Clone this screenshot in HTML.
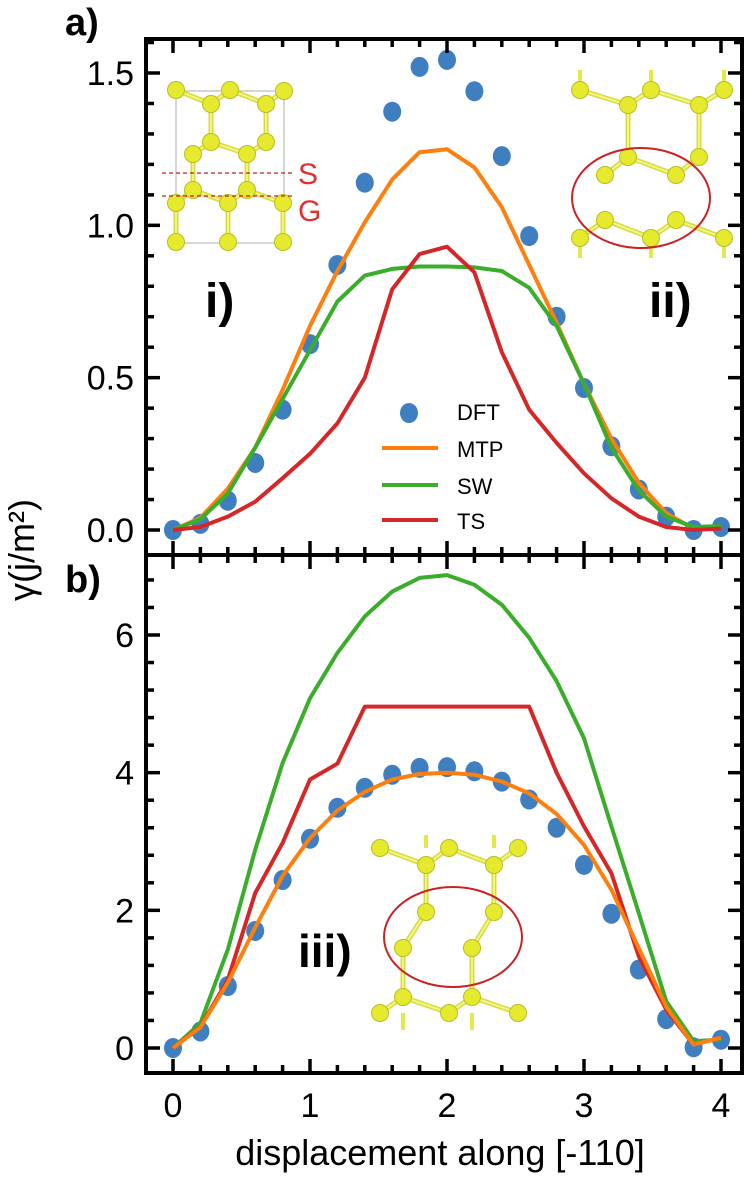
<!DOCTYPE html>
<html><head><meta charset="utf-8"><style>
html,body{margin:0;padding:0;background:#fff;}
svg{display:block;font-family:"Liberation Sans",Arial,sans-serif;}
</style></head><body>
<svg id="chart" width="750" height="1179" viewBox="0 0 750 1179" xmlns="http://www.w3.org/2000/svg">
<text x="65" y="35" font-size="38" font-weight="bold">a)</text>
<text x="65" y="592" font-size="38" font-weight="bold">b)</text>
<text transform="translate(34,550) rotate(-90)" text-anchor="middle" font-size="36">γ(j/m²)</text>
<text x="440" y="1165" text-anchor="middle" font-size="36">displacement along [-110]</text>
<g id="insets"></g>
<g id="plot"></g>
</svg>
<script>
const xs = [0,0.2,0.4,0.6,0.8,1.0,1.2,1.4,1.6,1.8,2.0,2.2,2.4,2.6,2.8,3.0,3.2,3.4,3.6,3.8,4.0];
const xTickLabels = ["0","1","2","3","4"];
const aTickLabels = ["0.0","0.5","1.0","1.5"];
const bTickLabels = ["0","2","4","6"];
const aDFT = [0,0.02,0.096,0.22,0.395,0.61,0.87,1.14,1.373,1.52,1.543,1.44,1.227,0.965,0.70,0.466,0.275,0.133,0.044,0.0,0.01];
const aMTP = [0,0.04,0.136,0.27,0.46,0.67,0.85,1.01,1.15,1.24,1.25,1.19,1.06,0.87,0.68,0.48,0.30,0.155,0.055,0.005,0.01];
const aSW  = [0,0.035,0.12,0.27,0.43,0.59,0.75,0.835,0.857,0.865,0.865,0.862,0.85,0.795,0.67,0.48,0.27,0.13,0.044,0.01,0.013];
const aTS  = [0,0.01,0.044,0.093,0.17,0.25,0.35,0.5,0.79,0.906,0.93,0.846,0.584,0.395,0.286,0.186,0.104,0.044,0.01,0.0,0.005];
const bDFT = [0,0.24,0.90,1.70,2.44,3.04,3.49,3.78,3.97,4.07,4.08,4.02,3.87,3.61,3.20,2.66,1.95,1.14,0.42,0.01,0.12];
const bMTP = [0,0.3,0.95,1.75,2.5,3.05,3.45,3.72,3.9,3.98,4.0,3.97,3.87,3.7,3.4,2.95,2.3,1.45,0.6,0.05,0.15];
const bSW  = [0,0.36,1.43,2.88,4.14,5.08,5.74,6.27,6.63,6.83,6.87,6.73,6.44,5.96,5.33,4.5,3.22,1.96,0.68,0.1,0.12];
const bTS  = [0,0.31,0.99,2.25,2.98,3.90,4.13,4.96,4.96,4.96,4.96,4.96,4.96,4.96,4.0,3.22,2.54,1.33,0.56,0.05,0.15];

const NS="http://www.w3.org/2000/svg";
const plot=document.getElementById('plot');
const ins=document.getElementById('insets');
function mk(tag,attrs,parent){const e=document.createElementNS(NS,tag);for(const k in attrs)e.setAttribute(k,attrs[k]);(parent||plot).appendChild(e);return e;}
const L=146,R=742,TA=39,MID=555,BOT=1073;
const X=v=>173+v*(721-173)/4;
const YA=v=>530-v*(530-73)/1.5;
const YB=v=>1048-v*(1048-635)/6;
const C={DFT:"#3f7fbf",MTP:"#ff7f0e",SW:"#3aae2a",TS:"#d62728"};

function molecule(balls,bonds,sticks,name){
  const g=mk('g',{},ins);
  
  
  sticks.forEach(s=>mk('line',{x1:s[0],y1:s[1],x2:s[2],y2:s[3],stroke:"#e4e84a","stroke-width":4},g));
  bonds.forEach(b=>{const p=balls[b[0]],q=balls[b[1]];mk('line',{x1:p[0],y1:p[1],x2:q[0],y2:q[1],stroke:"#d8dc3a","stroke-width":5},g);mk('line',{x1:p[0],y1:p[1],x2:q[0],y2:q[1],stroke:"#f2f58a","stroke-width":2},g);});
  balls.forEach(p=>mk('circle',{cx:p[0],cy:p[1],r:8.5,fill:"#e6ea2e",stroke:"#b9bd22","stroke-width":1},g));
  return g;
}
mk('rect',{x:176,y:91,width:108,height:152,fill:"none",stroke:"#999","stroke-width":0.8},ins);
const b1=[[176,90],[230,90],[284,91],[211,104],[266,104],[211,142],[266,142],[193,154],[247,154],[193,190],[247,190],[176,203],[228,203],[283,203],[176,242],[228,242],[283,242]];
molecule(b1,[[0,3],[1,3],[1,4],[2,4],[3,5],[4,6],[5,7],[5,8],[6,8],[7,9],[8,10],[9,11],[9,12],[10,12],[10,13],[11,14],[12,15],[13,16]],[],'inset-i-structure');
mk('line',{x1:162,y1:173,x2:292,y2:173,stroke:"#b22",'stroke-width':1.2,'stroke-dasharray':'4,3'},ins);
mk('line',{x1:162,y1:196,x2:292,y2:196,stroke:"#b22",'stroke-width':1.2,'stroke-dasharray':'4,3'},ins);
let t=mk('text',{x:298,y:184,'font-size':30,fill:"#e03030"},ins);t.textContent="S";


t=mk('text',{x:298,y:221,'font-size':30,fill:"#e03030"},ins);t.textContent="G";


t=mk('text',{x:205,y:317,'font-size':48,'font-weight':'bold'},ins);t.textContent="i)";


const b2=[[580,90],[651,90],[724,90],[628,105],[699,105],[628,157],[699,157],[605,175],[676,175],[605,220],[676,220],[580,238],[651,238],[724,238]];
molecule(b2,[[0,3],[1,3],[1,4],[2,4],[3,5],[4,6],[5,7],[5,8],[6,8],[9,11],[9,12],[10,12],[10,13]],[[580,70,580,90],[651,70,651,90],[724,70,724,90],[580,238,580,258],[651,238,651,258],[724,238,724,258]],'inset-ii-structure');
mk('ellipse',{cx:641,cy:198,rx:69,ry:50,fill:"none",stroke:"#cc2222","stroke-width":2},ins);
t=mk('text',{x:649,y:317,'font-size':48,'font-weight':'bold'},ins);t.textContent="ii)";


const b3=[[380,848],[449,848],[518,848],[426,865],[494,865],[426,912],[494,912],[403,948],[472,948],[403,997],[472,997],[380,1013],[449,1013],[518,1013]];
molecule(b3,[[0,3],[1,3],[1,4],[2,4],[3,5],[4,6],[5,7],[6,8],[7,9],[8,10],[9,11],[9,12],[10,12],[10,13]],[[426,835,426,848],[494,835,494,848],[403,1013,403,1030],[472,1013,472,1030]],'inset-iii-structure');
mk('ellipse',{cx:453,cy:937,rx:69,ry:50,fill:"none",stroke:"#cc2222","stroke-width":2},ins);
t=mk('text',{x:298,y:967,'font-size':46,'font-weight':'bold'},ins);t.textContent="iii)";



function line(vals,Y,col,name){
  const d=vals.map((v,i)=>(i?'L':'M')+X(xs[i]).toFixed(1)+','+Y(v).toFixed(1)).join(' ');
  const p=mk('path',{d:d,fill:'none',stroke:col,'stroke-width':4,'stroke-linejoin':'round'});
  
  
}
function dots(vals,Y,name){
  const g=mk('g',{});
  
  
  vals.forEach((v,i)=>mk('ellipse',{cx:X(xs[i]),cy:Y(v),rx:9,ry:10,fill:C.DFT},g));
}
dots(aDFT,YA,'dft-points-a');
line(aMTP,YA,C.MTP,'mtp-line-a');
line(aSW,YA,C.SW,'sw-line-a');
line(aTS,YA,C.TS,'ts-line-a');
dots(bDFT,YB,'dft-points-b');
line(bSW,YB,C.SW,'sw-line-b');
line(bTS,YB,C.TS,'ts-line-b');
line(bMTP,YB,C.MTP,'mtp-line-b');

const lg=mk('g',{});


mk('ellipse',{cx:409,cy:413,rx:9,ry:10,fill:C.DFT},lg);
[["DFT",420],["MTP",457],["SW",494],["TS",529]].forEach((e,i)=>{
  if(i>0) mk('line',{x1:382,y1:e[1]-9,x2:438,y2:e[1]-9,stroke:C[e[0]],'stroke-width':4},lg);
  const tt=mk('text',{x:457,y:e[1],'font-size':22},lg);tt.textContent=e[0];
});

const ax=mk('g',{});


mk('rect',{x:L,y:TA,width:R-L,height:BOT-TA,fill:'none',stroke:'#000','stroke-width':4},ax);
mk('line',{x1:L,y1:MID,x2:R,y2:MID,stroke:'#000','stroke-width':4},ax);
for(let k=0;k<=20;k++){
  const v=k*0.2, x=X(v), len=(k%5===0)?14:8;
  [[TA,1],[MID,-1],[MID,1],[BOT,-1]].forEach(s=>mk('line',{x1:x,y1:s[0],x2:x,y2:s[0]+s[1]*len,stroke:'#000','stroke-width':3.5},ax));
}
xTickLabels.forEach((lab,i)=>{const tt=mk('text',{x:X(i),y:1117,'font-size':34,'text-anchor':'middle'},ax);tt.textContent=lab;});
for(let k=0;k<=16;k++){
  const v=k*0.1; const y=YA(v); if(y<TA+2||y>MID-2) continue;
  const len=(k%5===0)?14:8;
  mk('line',{x1:L,y1:y,x2:L+len,y2:y,stroke:'#000','stroke-width':3.5},ax);
  mk('line',{x1:R,y1:y,x2:R-len,y2:y,stroke:'#000','stroke-width':3.5},ax);
}
aTickLabels.forEach((lab,i)=>{const tt=mk('text',{x:134,y:YA(i*0.5)+12,'font-size':34,'text-anchor':'end'},ax);tt.textContent=lab;});
for(let k=0;k<=18;k++){
  const v=k*0.4; const y=YB(v); if(y<MID+2||y>BOT-2) continue;
  const len=(k%5===0)?14:8;
  mk('line',{x1:L,y1:y,x2:L+len,y2:y,stroke:'#000','stroke-width':3.5},ax);
  mk('line',{x1:R,y1:y,x2:R-len,y2:y,stroke:'#000','stroke-width':3.5},ax);
}
bTickLabels.forEach((lab,i)=>{const tt=mk('text',{x:134,y:YB(i*2)+12,'font-size':34,'text-anchor':'end'},ax);tt.textContent=lab;});
</script>
</body></html>
